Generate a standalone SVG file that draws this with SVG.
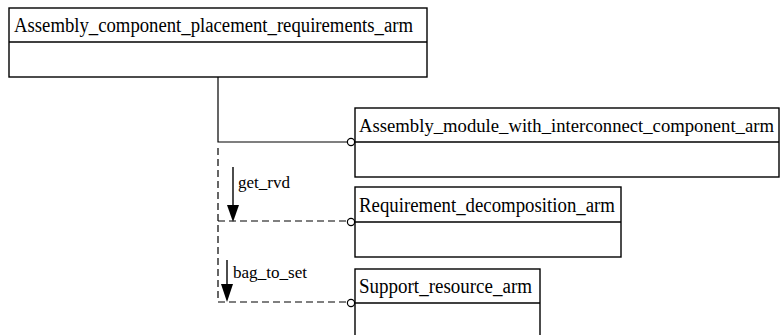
<svg xmlns="http://www.w3.org/2000/svg" width="781" height="335" viewBox="0 0 781 335">
  <style>
    .box { fill: #ffffff; stroke: #000000; stroke-width: 1.4; }
    .div { stroke: #000000; stroke-width: 1.4; }
    .name { font-family: "Liberation Serif", "Times New Roman", serif; font-size: 20px; fill: #000000; }
    .long { font-size: 19px; }
    .lbl { font-family: "Liberation Serif", "Times New Roman", serif; font-size: 17px; fill: #000000; }
    .solid { fill: none; stroke: #000000; stroke-width: 1.2; }
    .dash { fill: none; stroke: #000000; stroke-width: 1.2; stroke-dasharray: 7 4; }
    .end { fill: #ffffff; stroke: #000000; stroke-width: 1.2; }
    .arrow { fill: none; stroke: #000000; stroke-width: 1.4; }
  </style>
  <rect width="781" height="335" fill="#ffffff"/>

  <g id="connectors">
    <!-- solid link to the interconnect module -->
    <path class="solid" d="M218,77 V142 H347"/>
    <circle class="end" cx="351" cy="142" r="3.6"/>
    <!-- dashed links to requirement decomposition and support resource -->
    <path class="dash" d="M218,148 V302"/>
    <path class="dash" d="M218,221 H347"/>
    <circle class="end" cx="351" cy="222" r="3.6"/>
    <path class="dash" d="M218,302 H347"/>
    <circle class="end" cx="351" cy="303" r="3.6"/>
    <!-- direction arrows with labels -->
    <line class="arrow" x1="233" y1="167" x2="233" y2="206"/>
    <path d="M227,205 L239,205 L233,222 Z" fill="#000000"/>
    <text class="lbl" x="238" y="188" textLength="52" lengthAdjust="spacingAndGlyphs">get_rvd</text>
    <line class="arrow" x1="227" y1="260" x2="227" y2="285"/>
    <path d="M221,284 L233,284 L227,302 Z" fill="#000000"/>
    <text class="lbl" x="233" y="278" textLength="74" lengthAdjust="spacingAndGlyphs">bag_to_set</text>
  </g>

  <g id="Assembly_component_placement_requirements_arm">
    <rect class="box" x="9" y="8" width="418" height="69"/>
    <line class="div" x1="9" y1="42" x2="427" y2="42"/>
    <text class="name" x="14" y="32" textLength="399" lengthAdjust="spacingAndGlyphs">Assembly_component_placement_requirements_arm</text>
  </g>

  <g id="Assembly_module_with_interconnect_component_arm">
    <rect class="box" x="355" y="108" width="424" height="69"/>
    <line class="div" x1="355" y1="142" x2="779" y2="142"/>
    <text class="name long" x="359" y="132" textLength="415" lengthAdjust="spacingAndGlyphs">Assembly_module_with_interconnect_component_arm</text>
  </g>

  <g id="Requirement_decomposition_arm">
    <rect class="box" x="355" y="187" width="266" height="70"/>
    <line class="div" x1="355" y1="222" x2="621" y2="222"/>
    <text class="name" x="359" y="212" textLength="256" lengthAdjust="spacingAndGlyphs">Requirement_decomposition_arm</text>
  </g>

  <g id="Support_resource_arm">
    <rect class="box" x="355" y="269" width="185" height="72"/>
    <line class="div" x1="355" y1="303" x2="540" y2="303"/>
    <text class="name" x="359" y="293" textLength="173" lengthAdjust="spacingAndGlyphs">Support_resource_arm</text>
  </g>
</svg>
